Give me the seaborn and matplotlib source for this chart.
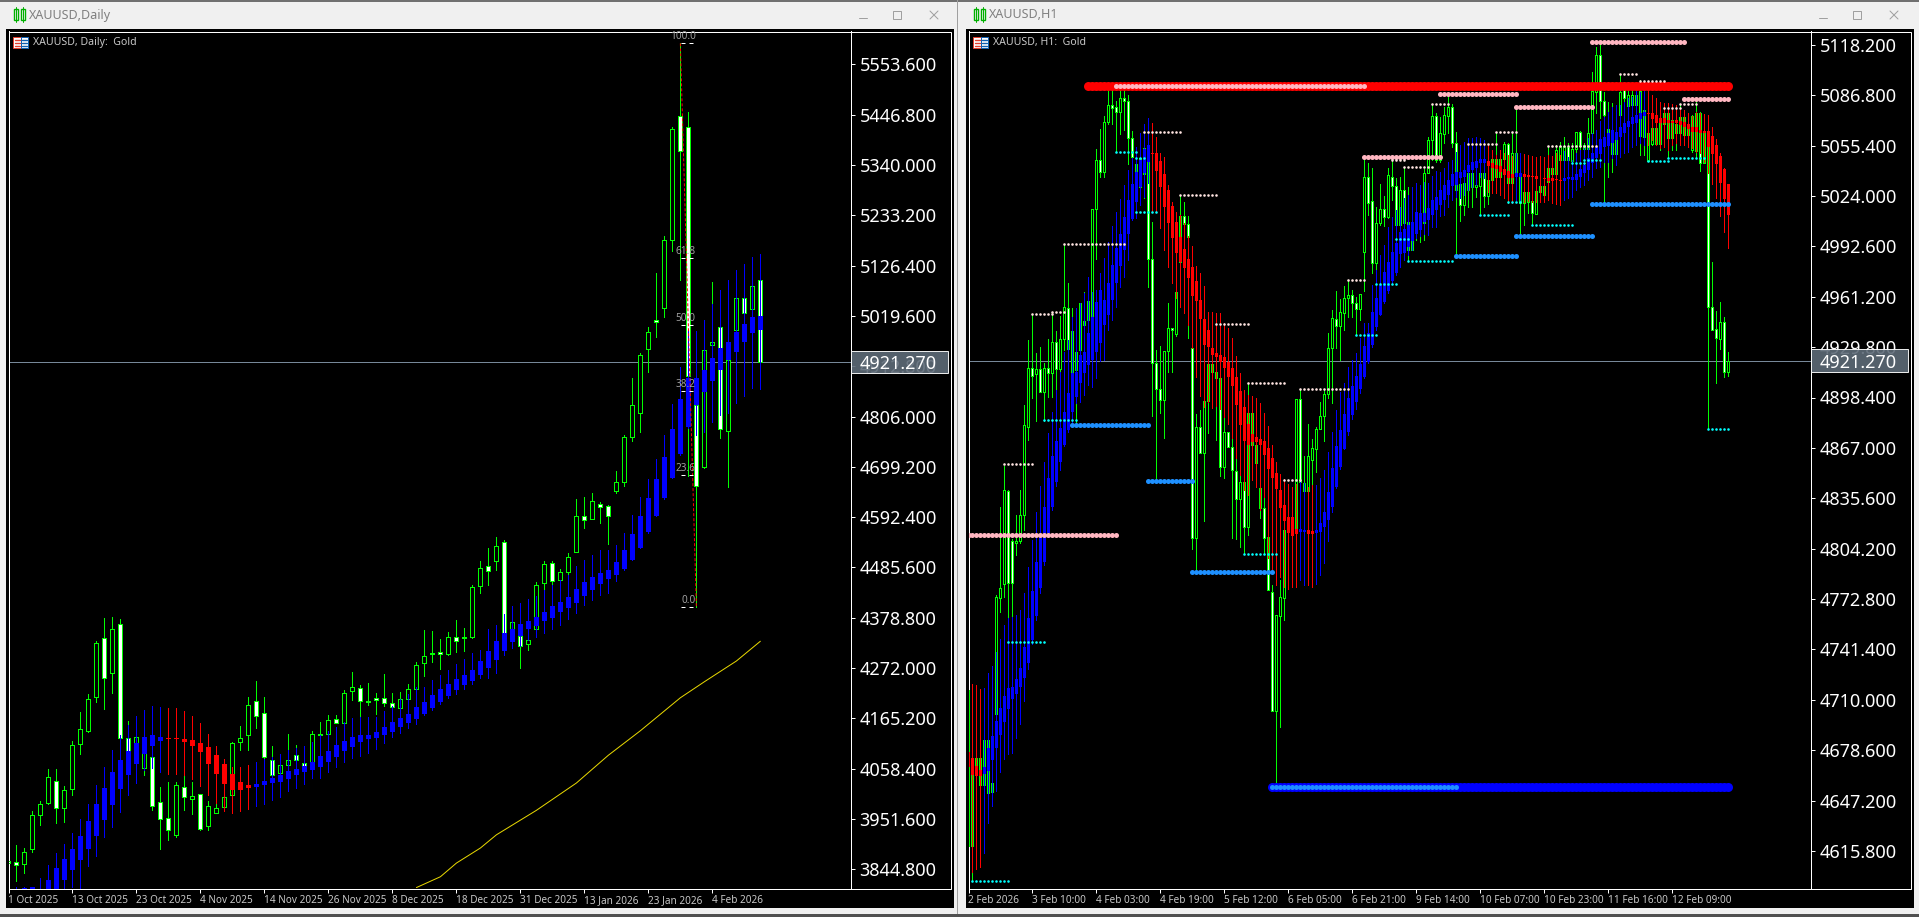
import matplotlib
matplotlib.use("Agg")
import numpy as np
import pandas as pd
import matplotlib.pyplot as plt
import seaborn as sns
from matplotlib.patches import Rectangle
from matplotlib.lines import Line2D

# Daily chart, candles
d_high = [3863,3897,3889,3969,3990,4058,4058,4022,4117,4179,
          4217,4330,4378,4381,4376,4160,4125,4123,4083,4020,
          4030,4030,4045,4030,4004,3990,3985,4010,4115,4149,
          4211,4245,4211,4107,4084,4132,4109,4105,4139,4158,
          4173,4173,4226,4263,4236,4240,4219,4260,4219,4221,
          4238,4286,4353,4350,4333,4348,4374,4357,4448,4499,
          4526,4550,4545,4404,4340,4335,4454,4500,4500,4482,
          4516,4631,4635,4643,4625,4618,4690,4766,4887,4940,
          4996,5110,5190,5420,5599,5452,4900,4960,5091,4996,
          4960,5057,5057,5084,5095]
d_top = [3863,3861,3882,3960,3983,4040,4033,4013,4108,4142,
         4206,4325,4335,4354,4365,4123,4125,4123,4083,3987,
         3953,4023,4019,4000,4004,3979,3974,3998,4114,4124,
         4193,4202,4176,4076,4066,4076,4087,4070,4132,4132,
         4161,4163,4219,4231,4229,4202,4208,4208,4197,4206,
         4227,4278,4297,4303,4306,4337,4337,4337,4444,4484,
         4489,4531,4539,4370,4340,4332,4448,4494,4496,4475,
         4507,4596,4596,4626,4621,4617,4668,4762,4830,4936,
         4985,5012,5180,5417,5445,5420,4830,4947,4964,4996,
         4926,5057,5057,5084,5095]
d_bot = [3858,3854,3855,3887,3960,3985,3974,3974,4015,4110,
         4138,4211,4250,4262,4123,4097,4084,4059,3980,3951,
         3928,3918,3999,3994,3930,3936,3965,3977,4002,4115,
         4129,4170,4083,4044,4049,4066,4076,4065,4070,4129,
         4133,4156,4156,4224,4203,4201,4205,4197,4189,4188,
         4207,4227,4282,4301,4301,4301,4330,4335,4339,4447,
         4478,4500,4310,4350,4318,4323,4354,4453,4456,4459,
         4475,4519,4586,4589,4615,4594,4647,4668,4762,4814,
         4950,5007,5036,5182,5369,4892,4659,4698,4959,4779,
         4776,4990,5025,5034,4921]
d_low = [3854,3819,3838,3882,3939,3984,3944,3946,4003,4090,
         4137,4201,4186,4220,4123,4003,4070,4044,3971,3887,
         3907,3914,3971,3963,3928,3928,3964,3971,4001,4098,
         4098,4145,4080,4042,3998,4049,4066,4056,4056,4112,
         4130,4155,4155,4204,4169,4194,4175,4192,4169,4148,
         4190,4219,4255,4285,4270,4300,4307,4309,4335,4431,
         4448,4480,4300,4340,4273,4310,4354,4438,4451,4459,
         4470,4519,4570,4589,4581,4536,4644,4659,4755,4773,
         4901,4976,5017,5158,5097,4680,4402,4696,4880,4761,
         4656,4960,5010,5020,4921]
d_white = [0,1,6,12,14,15,18,19,20,22,24,31,32,33,36,37,39,41,44,45,46,47,48,
           53,54,56,57,60,62,64,68,72,74,75,81,84,85,86,89,92,94]

# Daily chart, smoothed candles
dh_high = [3800,3808,3808,3808,3826,3853,3879,3899,3921,3951,
           3984,4023,4061,4098,4130,4151,4170,4183,4192,4189,
           4188,4187,4181,4170,4156,4132,4107,4080,4061,4061,
           4066,4072,4080,4084,4090,4098,4102,4107,4116,4130,
           4139,4148,4157,4165,4169,4169,4169,4180,4192,4206,
           4216,4231,4231,4247,4257,4269,4281,4291,4303,4311,
           4356,4364,4387,4403,4410,4418,4425,4438,4448,4458,
           4470,4489,4502,4512,4523,4523,4533,4558,4597,4635,
           4674,4717,4767,4832,4911,4990,4988,5011,5045,5075,
           5096,5117,5131,5144,5151]
dh_top = [3790,3800,3806,3807,3804,3822,3847,3866,3887,3916,
          3947,3984,4017,4052,4077,4095,4112,4125,4130,4126,
          4124,4124,4121,4119,4112,4105,4088,4068,4047,4030,
          4024,4026,4032,4039,4045,4053,4057,4064,4073,4085,
          4095,4108,4117,4125,4130,4130,4136,4146,4158,4166,
          4175,4189,4201,4214,4227,4238,4248,4257,4269,4287,
          4308,4330,4346,4356,4366,4372,4381,4392,4404,4412,
          4422,4439,4455,4465,4473,4480,4497,4523,4557,4595,
          4633,4673,4720,4779,4843,4887,4887,4905,4930,4951,
          4964,4986,5003,5017,5020]
dh_bot = [3770,3780,3790,3795,3790,3795,3801,3822,3843,3865,
          3888,3916,3950,3981,4015,4045,4068,4090,4107,4117,
          4122,4122,4116,4107,4093,4069,4048,4026,4013,4013,
          4018,4020,4023,4027,4031,4037,4044,4052,4056,4062,
          4073,4083,4096,4105,4115,4122,4124,4130,4136,4147,
          4156,4164,4175,4187,4201,4213,4226,4236,4245,4257,
          4272,4289,4309,4328,4340,4354,4362,4371,4379,4392,
          4400,4411,4426,4438,4451,4461,4470,4482,4502,4528,
          4560,4595,4634,4676,4727,4783,4831,4859,4882,4905,
          4926,4944,4965,4983,4990]
dh_low = [3750,3760,3770,3780,3770,3770,3780,3805,3808,3805,
          3851,3872,3914,3935,3967,4003,4027,4056,4059,4052,
          4047,4047,4045,4037,4022,4003,3985,3969,3964,3969,
          3972,3979,3984,3992,3998,4010,4018,4026,4038,4039,
          4052,4063,4072,4082,4086,4091,4100,4112,4126,4134,
          4144,4153,4173,4183,4196,4208,4217,4227,4238,4250,
          4250,4261,4300,4315,4318,4332,4337,4346,4354,4364,
          4376,4390,4406,4417,4427,4431,4456,4480,4502,4526,
          4558,4594,4632,4675,4725,4781,4767,4774,4795,4809,
          4813,4834,4850,4867,4864]
dh_red = list(range(20, 31))

# moving average on the daily chart
ma_bar = [51,54,56,59,61,66,71,75,79,84,87,91,94]
ma_val = [3806,3829,3858,3890,3918,3970,4028,4087,4139,4209,4243,4287,4329]

# fibonacci levels
fib_names = ["100.0","61.8","50.0","38.2","23.6","0.0"]
fib_vals = [5598.5,5142,5000,4860,4683,4402]

# H1 chart, candles
r_high = [4716,4680,4690,4685,4700,4700,4670,4775,4830,4856,
          4841,4810,4825,4841,4894,4934,4950,4926,4930,4920,
          4935,4952,4940,4949,4994,4970,4954,4952,4957,4964.4,
          4958.6,5016,5053,5065.6,5074,5090,5090,5083,5089.5,5089.5,
          5087,5064.5,5047.5,5063,5063.7,5055.8,5008,4928,4930.5,4927.4,
          4957,4941.5,4964.4,5024.6,5020,5011.8,4958,4888,4890.6,4899,
          4919,4919,4944,4910.8,4886,4876.7,4873.6,4860.5,4860,4845.5,
          4907.6,4888.5,4868.8,4857.4,4836.6,4826.6,4781.5,4762.8,4784.6,4847,
          4824,4824,4897.5,4903.7,4862,4881.9,4872.5,4880,4895.8,4904,
          4938.4,4953,4964.8,4959.6,4968,4971.2,4965.4,4961.3,4962.7,5048.1,
          5044.4,5041.3,5017.4,5031.5,5024.2,5041.3,5046.5,5035,5036,5041.7,
          5029.8,5010,5023.6,5023.6,5040.6,5060.6,5081.2,5075.6,5073.5,5079.7,
          5086.6,5081.4,5063.7,5033,5038,5046.5,5047.5,5037,5044.4,5044.4,
          5039.2,5046.9,5063.9,5050.6,5057.9,5056.8,5063.1,5078.7,5048.5,5038.1,
          5028.8,5027.8,5027.3,5035,5035,5055.2,5048.5,5055.8,5057.9,5060.6,
          5056.8,5056.8,5064.1,5064.5,5056.8,5072.4,5101.5,5117.1,5119.2,5089,
          5082.8,5082.2,5078.7,5100,5092.2,5090.1,5090.1,5090.1,5096.3,5085.9,
          5065.2,5068.3,5067.2,5075.6,5078.5,5078.7,5075.6,5072.4,5080.7,5077.6,
          5070.4,5074.5,5083.4,5076.6,5075,5061,4983,4952.3,4958,4948.8,
          4926.6]
r_top = [4716,4663,4673.5,4673.5,4685,4685,4658,4774,4779.4,4841,
         4840,4809,4809,4825,4881,4917,4917,4916,4916,4917,
         4917,4933,4933,4935,4955,4954,4940,4927,4957,4946,
         4958.6,5016,5046.3,5046.3,5070,5080.5,5080.5,5079.3,5085,5085,
         5083.5,5060,5044,5047.5,5053.7,5045,4984.5,4919.7,4904,4927.4,
         4941.5,4941.5,4964.4,5011.8,5011.8,5006.4,4929,4879.8,4879.8,4896,
         4919,4919,4914.5,4910.8,4876.7,4876.7,4867.7,4852.8,4845.5,4845.5,
         4889,4888.5,4868.8,4842.2,4829.3,4811.2,4776.9,4762.8,4773.8,4815.8,
         4824,4824,4897.5,4897.5,4844.9,4862,4866.7,4878.8,4886.9,4900.6,
         4929,4947.7,4947.1,4951.9,4960.2,4962.1,4962.1,4957.1,4962.7,5035.7,
         5035.7,5021.1,5007,5015.7,5015.7,5036.9,5036,5030.5,5027.5,5027.5,
         5008,5008,5014.3,5013.6,5038.1,5058.7,5073.7,5073.7,5063.1,5074.5,
         5079.3,5079.3,5056.8,5031.5,5031.9,5038.6,5038.6,5030.9,5038.6,5038.6,
         5034,5046.9,5046.9,5046.9,5056.4,5056.4,5051,5051,5038.1,5026.3,
         5026.3,5021.1,5027.3,5030.5,5030.5,5041.3,5041.3,5052.7,5055.2,5055.2,
         5054.4,5053.1,5063.7,5063.7,5055.8,5063.1,5089.7,5111.9,5111.9,5083,
         5065.6,5060,5060,5089,5090,5087,5087,5087,5089.7,5077.6,
         5063,5066.2,5066.2,5072.4,5075.6,5075.6,5071.4,5068.9,5073,5073,
         5068.3,5073.9,5075.6,5075.6,5064.1,5057.9,4955,4941,4945.3,4945.3,
         4921.3]
r_bot = [4619,4619,4663,4657,4657,4652,4652.5,4701,4773.6,4782,
         4783,4783,4808,4809,4825,4880,4912,4913,4902,4902,
         4913.5,4913.5,4916,4916,4935,4928.4,4909,4915.5,4928,4943.6,
         4946.7,4946.7,5016,5039,5039,5070,5079,5076.6,5076.6,5083.5,
         5060,5048,5021.5,5029.8,5038,4985,4919.7,4904,4897,4897,
         4927.6,4940.5,4937.8,4983,5006.4,4998.7,4810.6,4811,4863.6,4863.6,
         4896,4914.5,4910.8,4854.9,4854.9,4867.7,4853,4834.9,4834.9,4817.5,
         4817.5,4868.8,4857.8,4829.3,4811,4778.4,4703,4703,4762.4,4773.6,
         4815.8,4815.8,4815.8,4846,4840,4840.3,4859.4,4866.3,4878.6,4886.9,
         4900.6,4929,4943,4943,4951.3,4960.4,4957.1,4953.4,4953.4,4989.3,
         5019.4,4982.5,4982.5,5007,5011.1,5011.1,5030.5,5005.9,5005.9,5007,
         4990.4,4990.4,5007,5007,5007,5038.1,5058.7,5046.5,5046.5,5062.7,
         5073.9,5056.8,5027.8,5018.4,5018.4,5027.8,5029.8,5029.4,5030.3,5024.2,
         5024.2,5034,5036,5036,5046.9,5031.9,5031.9,5038.1,5019.4,5019.4,
         5020.5,5013.2,5012.8,5026.3,5024.6,5032.5,5037.7,5037.7,5046.5,5046.5,
         5046.5,5046,5053.1,5055.2,5053.1,5053.1,5063.1,5089,5083,5074.5,
         5058.9,5050,5050,5074.5,5084.9,5080,5080.7,5080.7,5061.4,5061,
         5045.8,5056.4,5056.4,5056.4,5068.9,5060,5060,5063.1,5063.1,5062,
         5062,5052.7,5052.3,5044.4,5044.4,4955,4940.5,4935.3,4934.9,4914.5,
         4914.5]
r_low = [4619,4597,4640,4640,4650,4645,4650,4697,4765,4774,
         4761,4761,4800,4808,4816,4872,4898,4884,4902,4884,
         4899,4899,4889,4903,4928,4928,4883,4882,4928,4925,
         4930,4945,4985,5035.6,5035.6,5069,5069,5051.4,5062.7,5065,
         5043.8,5044,5014,5024.6,5022.6,4967.5,4886.9,4847,4888.5,4873,
         4914.5,4914.5,4937,4961,4984,4935.3,4804,4789.8,4863.6,4821.6,
         4876,4893.7,4872,4849.7,4848,4867.7,4810.6,4810,4805.4,4800.8,
         4812.7,4866,4842.8,4823.5,4800.8,4778.4,4703,4658.3,4693,4760,
         4799,4811.6,4815.8,4846,4840,4840.3,4841.8,4852.2,4878.6,4871.5,
         4897.9,4894.8,4929,4921.8,4940.5,4948.8,4948.4,4937.4,4946.7,4964.8,
         5012.2,4975.8,4969.2,5006,5005,5010.1,5021.5,4997,5000.7,5002.8,
         4983.5,4990.4,4996.6,4995.5,4996.6,5038.1,5046.5,5045.4,5045.4,5056.8,
         5063.1,5054.8,4986.6,5008.6,5012.2,5017.4,5017.4,5023.6,5012.2,5017.4,
         5019,5031.9,5030.9,5024.6,5031.9,5019.9,5031.9,5023.6,5000.3,5005.9,
         5013.2,5005.9,5012.8,5020.5,5020.5,5032.5,5036.1,5037.1,5044.4,5045.4,
         5044.8,5044.4,5044.4,5045.4,5045.4,5046.5,5062,5075.6,5072.4,5020.5,
         5036.1,5039.2,5043.3,5061,5078.7,5080.7,5080.7,5071.4,5049.6,5049.6,
         5045.8,5055.8,5055.8,5052.7,5065.2,5047.7,5052.7,5052.7,5055.8,5057.9,
         5055.8,5051.6,5047.5,5039.8,5044.4,4878.8,4940.4,4907.2,4928.7,4911.4,
         4911.8]
r_white = [10,11,16,18,20,22,25,30,33,36,37,39,40,41,45,46,47,48,51,54,55,56,58,
           63,65,66,67,69,73,74,75,76,83,84,92,96,97,100,101,104,106,107,109,111,
           117,121,122,123,129,135,141,150,153,158,159,164,172,179,183,185,186,187,189]

# H1 chart, smoothed candles
rh_high = [4677.6,4720,4719,4716.7,4717.5,4726.5,4731.2,4740,4747.9,4756.6,
           4760.7,4761.8,4762.8,4765.9,4776.3,4792.5,4809.6,4827.2,4843.2,4858.4,
           4876,4889.1,4903.1,4914.5,4927,4934.3,4948.8,4954,4957.1,4963.3,
           4973.7,4964.4,4965.4,4975.8,4985.2,4995.5,5005.5,5014.2,5022.1,5030.9,
           5040.2,5047.5,5054.8,5063.1,5068.9,5072.4,5069.3,5061,5051,5048.5,
           5030.9,5020.5,5014.2,5012.2,5007,4999.1,4992.8,4980.4,4975.8,4967.9,
           4951.9,4951.9,4951.3,4950.9,4944.6,4941.5,4935.3,4924.3,4913.5,4903.1,
           4900,4899.3,4897.9,4894.8,4888.5,4880.6,4868.8,4858.4,4850.7,4847.4,
           4844.5,4842.4,4844.5,4846,4844.9,4842.8,4843.8,4843.8,4848,4853.2,
           4864.6,4877.1,4890.6,4902,4907.2,4917.2,4921.8,4926.4,4935.3,4944.6,
           4944.6,4968.5,4977.9,4987.2,4993.5,5004.9,5011.1,5015.3,5017,5022.6,
           5024.6,5029.4,5032.3,5030.9,5033,5031.9,5036.5,5039.8,5039.2,5041.3,
           5045.4,5046.5,5051.6,5055.8,5057.9,5060,5060.4,5060.6,5060.4,5058.9,
           5055.8,5052.7,5049.6,5052.7,5050.6,5049.6,5048.9,5051,5051,5050.2,
           5049.6,5049.2,5048.5,5048.9,5048.5,5049.6,5048.9,5050.6,5049.6,5052.3,
           5048.1,5046.5,5050.6,5052.7,5055.8,5060,5063.1,5065.2,5071,5073.1,
           5076.6,5079.7,5080.7,5080.7,5082.8,5084.9,5085.9,5090.1,5089,5090.1,
           5090.1,5087,5084.9,5082.8,5081.8,5082.2,5081.4,5080.7,5078.7,5077.6,
           5075.6,5073.9,5076.6,5075.6,5074.9,5074.5,5067.2,5059.3,5050.6,5041.3,
           5031.5]
rh_top = [4677.6,4673.5,4668.9,4666.2,4668.3,4679.7,4687.4,4696.7,4704.6,4712.3,
          4717.1,4718.1,4722.9,4730,4743.1,4760.7,4777.8,4795.6,4813.3,4830.3,
          4848,4862,4871.3,4879.6,4889.6,4901,4913.5,4914.5,4924.9,4927,
          4938.4,4948.8,4958.1,4965.4,4959.2,4969.6,4981,4991.4,5000.3,5011.1,
          5021.5,5031.5,5039.2,5046.5,5053.1,5055.8,5051,5051,5046,5037.7,
          5027.8,5017.8,5008,4998.2,4990.8,4984.7,4979.5,4971.2,4959.2,4947.3,
          4940.5,4929,4926.4,4924.9,4923.4,4920.7,4917,4911.4,4902.7,4892.3,
          4881.9,4875.6,4874,4872.5,4871.5,4867.1,4860.9,4851.5,4840.7,4831.4,
          4824.1,4823.7,4816.2,4816.2,4815.8,4815.8,4815.2,4815.8,4820.4,4827.2,
          4839.7,4854.2,4868.2,4878.1,4888.1,4897.9,4905.6,4911.8,4919.3,4930.7,
          4938.4,4951.9,4960.2,4968.5,4976.8,4983.1,4989.3,4994.5,5001.7,5003.2,
          5005.9,5008,5014.3,5013.6,5013.6,5016.3,5021.5,5023.6,5027.8,5030.9,
          5034,5037.7,5039.2,5039.2,5040.2,5043.3,5045,5046,5046.9,5046.9,
          5045.8,5044.8,5043.3,5042.7,5040.6,5039.8,5037.7,5038.1,5038.1,5037.5,
          5037.1,5036.7,5036.5,5035.4,5035.2,5035.2,5035.2,5034.6,5034,5035,
          5036.1,5036.1,5037.7,5040.6,5043.3,5047.5,5050.6,5054.8,5059.3,5061,
          5063.5,5065.2,5064.1,5066.8,5069.3,5071,5073.1,5074.5,5076,5076.6,
          5075.6,5075.6,5074.5,5072.4,5072.4,5071.4,5071,5071.4,5071,5070.4,
          5068.9,5067.2,5067.2,5065.2,5064.7,5064.7,5061.4,5055.8,5049,5040.8,
          5031.5]
rh_bot = [4668.9,4663,4662.6,4662.6,4663.7,4665.8,4672.4,4680.1,4688,4696.3,
          4704.2,4710.4,4713.6,4717.7,4723.7,4732.7,4747.2,4762.4,4779.4,4796,
          4813.7,4830.3,4846,4858.4,4868.8,4878.1,4889.6,4898.9,4907.2,4913.5,
          4918.7,4921.8,4927,4932.6,4943.6,4949.8,4959.2,4969.6,4980.4,4990.4,
          5000.3,5009.5,5020.5,5029.4,5038.1,5045.4,5050.2,5039.8,5029.4,5017.4,
          5007.4,4997.6,4988.7,4983,4979,4972.7,4961.7,4958.8,4947.1,4931.1,
          4930,4924.9,4923.4,4920.7,4916.6,4911.4,4905.6,4893.7,4881.3,4871.3,
          4868.8,4870.9,4870.9,4868.8,4862.6,4853.6,4848,4841.2,4829.7,4821.6,
          4813.7,4812,4813.3,4814.8,4814.5,4813.3,4813.3,4813.7,4814.8,4817.5,
          4822,4830.3,4842.4,4854.9,4866.3,4877.1,4887.5,4895.8,4903.5,4911,
          4920.7,4931.1,4942.1,4949.8,4958.1,4965,4971.2,4975.8,4987.9,4988.3,
          4992.4,4996.2,5000.3,5002.8,5007.6,5009,5012.2,5015.3,5018.4,5021.5,
          5024.6,5030.2,5030.9,5035,5036.1,5039.2,5040.2,5041.3,5044.4,5044.4,
          5042.7,5041.3,5040.6,5039.2,5037.1,5035.4,5035.4,5036.1,5036.1,5036.1,
          5035.9,5035.7,5034.6,5035,5034.8,5033.6,5033.6,5034,5033.6,5033.6,
          5034.4,5034,5034,5035.7,5038.1,5040.2,5044.4,5047.5,5050.2,5054.4,
          5055.2,5057.3,5058.9,5060.6,5063.1,5066.8,5068.9,5069.7,5071.8,5073.9,
          5075.1,5071.8,5069.7,5069.7,5069.3,5069.3,5069.7,5069.3,5068.3,5067.2,
          5065.6,5064.1,5064.1,5063.5,5063.5,5054.8,5050.2,5044,5031.9,5021.9,
          5012.2]
rh_low = [4668.9,4602.4,4604.3,4605.5,4614.6,4633,4643.9,4653,4665.2,4672.8,
          4676.2,4677,4686.3,4694.9,4709.2,4728.9,4745,4759.7,4776.3,4794,
          4811.6,4828.3,4843.2,4853.2,4868,4877.1,4883.3,4894.8,4895.8,4900,
          4906.2,4904.7,4910.4,4921.2,4921.8,4940.5,4946.7,4955,4967.5,4973.7,
          4984.1,5009,5010.1,5018.4,5023.6,5031.9,5014.2,5014.2,5003.9,4990.4,
          4979.5,4969.6,4960.2,4955,4951.3,4943.6,4929,4911.4,4899.5,4892.3,
          4895.8,4891.7,4893.1,4891,4886,4881.9,4873,4860.5,4850.1,4840.7,
          4837.6,4847,4842.8,4828.3,4836.6,4798.5,4790.4,4781.5,4786.7,4780.5,
          4779,4780.5,4780,4784.6,4781.5,4781.5,4780.5,4782.1,4787.7,4795,
          4809.1,4827.2,4842,4854,4866,4875,4884.8,4891,4901,4910.4,
          4920,4930,4940.5,4949.8,4957,4963.3,4969.6,4974.8,4980,4984.1,
          4987.2,4990.4,4997.6,4999,5000.3,4999.7,5004.9,5004.9,5011.5,5012.2,
          5017.4,5021.5,5023.6,5022.6,5024.6,5027.8,5029.8,5030.9,5036.1,5035,
          5026.7,5025.7,5025.7,5024.6,5022.6,5021.5,5019.9,5021.5,5020.5,5020.5,
          5021.1,5020.5,5020.5,5020.5,5020.5,5021.5,5019.4,5019,5018.4,5021.5,
          5022.6,5023.6,5027.8,5029.8,5030.9,5034,5036.1,5041.3,5042.3,5045.4,
          5045.4,5047.5,5043.3,5048.5,5050.6,5051.6,5054.8,5055.8,5056.8,5055.8,
          5055.8,5058.9,5055.8,5053.7,5054.8,5052.7,5055.8,5056.8,5055.8,5055.8,
          5054.8,5053.7,5051.6,5050.6,5045.4,5038.1,5031.5,5022.6,5011.5,5001.8,
          4991.8]
rh_red = (list(range(0, 4)) + list(range(46, 83)) + [85, 86] + list(range(130, 137))
          + list(range(139, 149)) + list(range(170, 191)))

# support and resistance dots on the H1 chart: first bar, last bar, price
big_red = [(30, 190, 5092.6)]
big_blue = [(76, 190, 4655.6)]
pink = [(0,37,4812.7),(37,99,5092.6),(99,118,5048.3),(118,137,5087.6),(137,156,5079.5),
        (156,179,5120.0),(179,190,5084.5)]
azure = [(26,45,4881.3),(45,56,4846.4),(56,76,4789.4),(76,122,4655.6),(122,137,4986.6),
         (137,156,4998.9),(156,190,5019.0)]
pale = [(9,16,4857.0),(16,21,4950.5),(21,24,4951.7),(24,39,4993.9),(44,53,5063.7),
        (53,62,5024.6),(62,70,4944.2),(70,79,4907.5),(79,83,4847.0),(83,95,4903.7),
        (95,99,4971.7),(106,109,5046.5),(109,116,5042.1),(116,120,5081.4),(125,132,5056.4),
        (132,137,5063.9),(145,157,5055.2),(163,167,5100.0),(168,174,5095.9),(174,178,5078.7),
        (178,182,5081.2)]
cyan = [(1,10,4597.0),(10,19,4745.8),(19,27,4884.4),(37,42,5051.4),(42,44,5047.5),(42,47,5014.0),
        (69,77,4800.9),(97,102,4937.6),(102,107,4969.2),(107,110,4997.0),(110,121,4983.5),
        (128,135,5012.2),(135,138,5020.3),(141,151,5005.9),(151,154,5044.6),(154,158,5046.3),
        (170,175,5045.8),(175,184,5047.7),(185,190,4878.8)]

d_prices = [5553.6,5446.8,5340.0,5233.2,5126.4,5019.6,4912.8,4806.0,4699.2,
            4592.4,4485.6,4378.8,4272.0,4165.2,4058.4,3951.6,3844.8]
r_prices = [5118.2,5086.8,5055.4,5024.0,4992.6,4961.2,4929.8,4898.4,4867.0,
            4835.6,4804.2,4772.8,4741.4,4710.0,4678.6,4647.2,4615.8]
d_dates = ["1 Oct 2025","13 Oct 2025","23 Oct 2025","4 Nov 2025","14 Nov 2025","26 Nov 2025",
           "8 Dec 2025","18 Dec 2025","31 Dec 2025","13 Jan 2026","23 Jan 2026","4 Feb 2026"]
r_dates = ["2 Feb 2026","3 Feb 10:00","4 Feb 03:00","4 Feb 19:00","5 Feb 12:00","6 Feb 05:00",
           "6 Feb 21:00","9 Feb 14:00","10 Feb 07:00","10 Feb 23:00","11 Feb 16:00","12 Feb 09:00"]
last_price = 4921.27

W, H = 1919, 917
PX = 0.72
sns.set_style("dark")
plt.rcParams['font.family'] = ['Noto Sans', 'DejaVu Sans']
plt.rcParams['axes.grid'] = False

fig = plt.figure(figsize=(W / 100, H / 100), dpi=100, facecolor='#f0f0f0')


def box(x0, y0, x1, y1, fc, ec='none', lw=0, z=-1, alpha=None):
    fig.add_artist(Rectangle((x0 / W, 1 - y1 / H), (x1 - x0) / W, (y1 - y0) / H,
                             transform=fig.transFigure, fc=fc, ec=ec, lw=lw, zorder=z, alpha=alpha))


def seg(x0, y0, x1, y1, color, lw=PX):
    fig.add_artist(Line2D([x0 / W, x1 / W], [1 - y0 / H, 1 - y1 / H],
                          transform=fig.transFigure, color=color, lw=lw, zorder=2))


def candles(ax, high, top, bot, low, white, width):
    n = len(high)
    x = np.arange(n)
    df = pd.DataFrame({'high': high, 'top': top, 'bot': bot, 'low': low})
    fill = ['white' if i in white else 'black' for i in range(n)]
    ax.vlines(x, df['low'], df['high'], colors='#00ff00', lw=PX, zorder=2, antialiased=False)
    ax.bar(x, df['top'] - df['bot'], width, df['bot'], color=fill, edgecolor='#00ff00',
           lw=PX, zorder=3, antialiased=False)


def smoothed(ax, high, top, bot, low, red, width):
    n = len(high)
    x = np.arange(n)
    df = pd.DataFrame({'high': high, 'top': top, 'bot': bot, 'low': low})
    cols = ['#ff0000' if i in red else '#0000ff' for i in range(n)]
    ax.vlines(x, df['low'], df['high'], colors=cols, lw=PX, zorder=4, antialiased=False)
    ax.bar(x, df['top'] - df['bot'], width, df['bot'], color=cols, lw=0, zorder=4, antialiased=False)


def dots(ax, segments, size, color, z):
    rows = [(i, p) for a, b, p in segments for i in range(a, b + 1)]
    df = pd.DataFrame(rows, columns=['bar', 'price'])
    sns.scatterplot(data=df, x='bar', y='price', s=size, color=color, linewidth=0,
                    legend=False, ax=ax, zorder=z)


def pane(x0, x1, x_frame, first_px, bar_px, scale, y_ref, px_ref, prices, dates, step, title, name):
    # window chrome
    box(x0 - 2, 29, x_frame + 4, 908, 'black')
    box(x0 + 0.5, 31.5, x_frame + 0.5, 888.5, 'black', 'white', PX, -0.5)
    ax = fig.add_axes([(x0 + 0.5) / W, 1 - 888.5 / H, (x1 - x0) / W, 857 / H], facecolor='black')
    ax.set_xlim((x0 + 0.5 - first_px) / bar_px, (x1 + 0.5 - first_px) / bar_px)
    ax.set_ylim(y_ref - (888.5 - px_ref) * scale, y_ref + (px_ref - 31.5) * scale)
    for s in ax.spines.values():
        s.set_color('white')
        s.set_linewidth(PX)
    ax.yaxis.tick_right()
    ax.set_yticks(prices)
    ax.set_yticklabels([f"{p:.3f}" for p in prices], fontsize=13, color='white', va='center_baseline')
    ax.set_xticks([step * i for i in range(len(dates))])
    ax.set_xticklabels(dates, fontsize=7.2, color='#c8c8c8', ha='left')
    ax.tick_params(axis='y', length=3, width=PX, color='white', pad=3.5, left=False, right=True)
    ax.tick_params(axis='x', length=3, width=PX, color='white', pad=1.5, bottom=True)
    ax.set_xlabel('')
    ax.set_ylabel('')
    ax.axhline(last_price, color='#778899', lw=PX, zorder=1)
    # title bar
    fig.text((x0 + 21) / W, 1 - 15 / H, title, fontsize=9, color='#808080', va='center')
    box(x0 + 6, 9, x0 + 10, 20, 'none', '#00b000', 1.0, 1)
    box(x0 + 13, 9, x0 + 17, 20, 'none', '#00b000', 1.0, 1)
    seg(x0 + 8, 7, x0 + 8, 22, '#00b000')
    seg(x0 + 15, 7, x0 + 15, 22, '#00b000')
    # window buttons
    seg(x_frame - 91, 18, x_frame - 83, 18, '#a0a0a0')
    box(x_frame - 57, 11, x_frame - 49, 19, 'none', '#a0a0a0', PX, 1)
    seg(x_frame - 20, 11, x_frame - 12, 19, '#a0a0a0')
    seg(x_frame - 20, 19, x_frame - 12, 11, '#a0a0a0')
    # symbol line
    box(x0 + 5, 37, x0 + 20, 47.5, 'white', '#e04030', PX, 1)
    box(x0 + 13, 37, x0 + 20, 47.5, 'white', '#1060b0', PX, 1)
    for yy in (40, 43, 46):
        seg(x0 + 7, yy, x0 + 12, yy, '#e04030', 1.0)
        seg(x0 + 14, yy, x0 + 19, yy, '#1060b0', 1.0)
    fig.text((x0 + 25) / W, 1 - 42.5 / H, name, fontsize=7.6, color='#c8c8c8', va='center')
    # last price box
    y_last = px_ref + (y_ref - last_price) / scale
    box(x1 + 1, y_last - 11.5, x_frame - 2, y_last + 11, '#5e6b78', 'white', PX, 3, 0.9)
    fig.text((x1 + 10) / W, 1 - y_last / H, f"{last_price:.3f}", fontsize=13, color='white',
             va='center_baseline', zorder=4)
    return ax


# daily pane
ax1 = pane(8, 850, 950, 8.33, 8.0, 106.8 / 50.3, 5019.6, 316.0, d_prices, d_dates, 8,
           "XAUUSD,Daily", "XAUUSD, Daily:  Gold")
candles(ax1, d_high, d_top, d_bot, d_low, d_white, 0.5)
smoothed(ax1, dh_high, dh_top, dh_bot, dh_low, dh_red, 0.62)
ma = pd.DataFrame({'bar': ma_bar, 'val': ma_val})
sns.lineplot(data=ma, x='bar', y='val', color='#e8d800', lw=PX, ax=ax1, zorder=5, legend=False)
ax1.plot([84, 86], [fib_vals[0], fib_vals[-1]], color='#ff0000', lw=PX, ls=(0, (3, 2)), zorder=6)
for nm, v in zip(fib_names, fib_vals):
    ax1.hlines(v, 84.1, 85.9, color='white', lw=PX, ls=(0, (4, 4)), zorder=6)
    ax1.text(85.9, v + 2, nm, fontsize=7.2, color='#a0a0a0', ha='right', va='bottom', zorder=6)

# H1 pane
ax2 = pane(968, 1810, 1910, 968.33, 4.0, 31.4 / 50.375, 5024.0, 196.0, r_prices, r_dates, 16,
           "XAUUSD,H1", "XAUUSD, H1:  Gold")
candles(ax2, r_high, r_top, r_bot, r_low, r_white, 0.5)
smoothed(ax2, rh_high, rh_top, rh_bot, rh_low, rh_red, 0.75)
dots(ax2, big_red, 42, '#ff0000', 6)
dots(ax2, big_blue, 42, '#0000ff', 6)
dots(ax2, pink, 13, '#ffb6c1', 7)
dots(ax2, azure, 13, '#1e90ff', 7)
dots(ax2, pale, 3.5, '#ffe4e1', 7)
dots(ax2, cyan, 3.5, '#00ffff', 7)
for a in (ax1, ax2):
    a.set_xlabel('')
    a.set_ylabel('')

# top edge and bottom strip of the screen grab
box(0, 0, W, 1.5, '#707070', z=-0.8)
box(0, 914, W, H, '#505050', z=-0.8)
box(956.5, 0, 958, 914, '#a0a0a0', z=-0.8)

fig.savefig("out.png", dpi=100, facecolor=fig.get_facecolor())
